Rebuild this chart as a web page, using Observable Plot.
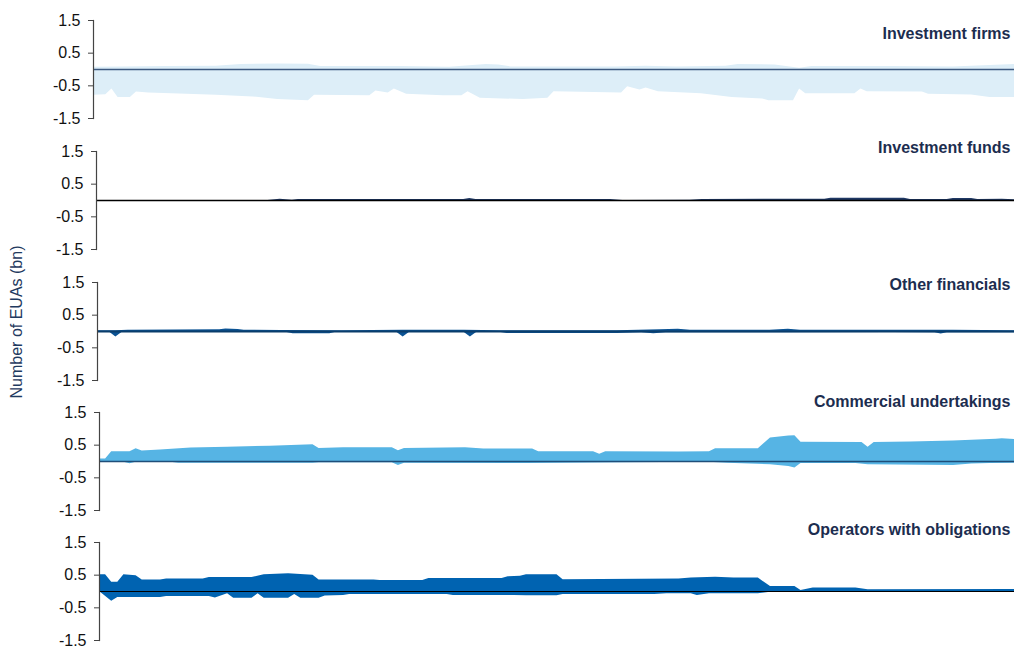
<!DOCTYPE html>
<html><head><meta charset="utf-8">
<script src="https://cdn.jsdelivr.net/npm/d3@7"></script>
<script src="https://cdn.jsdelivr.net/npm/@observablehq/plot@0.6"></script>
<style>
body{margin:0;background:#fff;font-family:"Liberation Sans",Arial,sans-serif;}
#wrap{position:relative;width:1019px;height:648px;overflow:hidden;background:#fff;}
.panel{position:absolute;left:0;}
#ylab{position:absolute;left:17px;top:322px;transform:translate(-50%,-50%) rotate(-90deg);white-space:nowrap;font-size:16px;color:#1f3a60;}
</style></head><body>
<div id="wrap"><div id="ylab">Number of EUAs (bn)</div></div>
<script>
// ---- Data (weeks since start, positions in bn EUAs) ----
const yTicks = [1.5, 0.5, -0.5, -1.5];
const panelTitles = ["Investment firms", "Investment funds", "Other financials", "Commercial undertakings", "Operators with obligations"];

const firmsLongWeek  = [0,5,12,20,24,30,35,37,50,58,64,66,68,85,90,95,103,105,111,115,117,130,140,146,150];
const firmsLongValue = [0.07,0.08,0.09,0.1,0.15,0.17,0.16,0.09,0.09,0.07,0.15,0.14,0.08,0.08,0.1,0.08,0.1,0.15,0.14,0.04,0.09,0.09,0.08,0.12,0.15];
const firmsShortWeek  = [0,2,3,4,6,7,9,14,20,26,30,35,36,45,46,48,49,51,57,60,61,63,70,74,75,86,87,89,90,92,99,104,109,110,114,115,116,124,125,126,135,136,143,146,150];
const firmsShortValue = [-0.79,-0.77,-0.6,-0.86,-0.86,-0.69,-0.72,-0.75,-0.79,-0.84,-0.92,-0.96,-0.79,-0.8,-0.66,-0.72,-0.6,-0.76,-0.8,-0.8,-0.68,-0.88,-0.92,-0.88,-0.68,-0.72,-0.53,-0.63,-0.57,-0.68,-0.74,-0.86,-0.9,-0.96,-0.96,-0.6,-0.74,-0.74,-0.6,-0.68,-0.69,-0.76,-0.78,-0.86,-0.86];

const fundsLongWeek  = [0,28,30,32,33,60,61,62,84,86,97,99,119,120,132,133,139,140,143,144,148,150];
const fundsLongValue = [0,0,0.04,0.01,0.03,0.03,0.06,0.03,0.03,0,0.01,0.03,0.04,0.07,0.07,0.03,0.03,0.06,0.06,0.03,0.04,0.02];
const fundsShortWeek  = [0,150];
const fundsShortValue = [-0.01,-0.01];

const otherLongWeek  = [0,3,5,20,21,23,24,30,40,50,60,66,85,92,95,97,110,113,115,140,145,150];
const otherLongValue = [0.02,0.02,0.04,0.05,0.08,0.06,0.04,0.03,0.02,0.04,0.04,0.02,0.02,0.05,0.07,0.04,0.04,0.07,0.04,0.04,0.03,0.02];
const otherShortWeek  = [0,2,3,4,31,32,38,39,49,50,51,60,61,62,66,67,85,89,91,93,130,137,138,139,150];
const otherShortValue = [-0.02,-0.02,-0.17,-0.03,-0.03,-0.07,-0.07,-0.02,-0.03,-0.17,-0.03,-0.03,-0.17,-0.03,-0.03,-0.06,-0.06,-0.04,-0.07,-0.04,-0.03,-0.04,-0.08,-0.04,-0.04];

const commLongWeek  = [0,1,2,5,6,7,10,15,21,28,35,36,40,48,49,50,60,63,71,72,81,82,83,95,100,101,108,110,113,114,115,125,126,127,133,140,147,148,150];
const commLongValue = [0.08,0.08,0.3,0.3,0.39,0.32,0.35,0.41,0.44,0.47,0.51,0.4,0.42,0.42,0.33,0.4,0.42,0.38,0.38,0.3,0.3,0.22,0.3,0.29,0.3,0.39,0.39,0.72,0.78,0.79,0.59,0.58,0.44,0.58,0.6,0.63,0.68,0.7,0.67];
const commShortWeek  = [0,4,5,6,12,13,35,36,48,49,50,70,85,100,103,110,113,114,115,124,126,140,143,146,150];
const commShortValue = [0,-0.02,-0.07,-0.02,-0.03,-0.05,-0.05,-0.04,-0.04,-0.12,-0.05,-0.06,-0.04,-0.02,-0.05,-0.1,-0.15,-0.2,-0.06,-0.06,-0.1,-0.12,-0.08,-0.06,-0.05];

const opsLongWeek  = [0,1,2,3,4,6,7,10,11,17,18,25,27,31,35,36,45,46,53,54,66,67,69,70,75,76,95,97,101,104,108,110,114,115,117,124,126,150];
const opsLongValue = [0.51,0.51,0.28,0.28,0.51,0.48,0.35,0.35,0.38,0.38,0.43,0.43,0.51,0.54,0.5,0.35,0.35,0.34,0.34,0.4,0.4,0.45,0.47,0.51,0.51,0.36,0.38,0.41,0.44,0.41,0.41,0.15,0.15,0.03,0.11,0.11,0.05,0.06];
const opsShortWeek  = [0,2,3,10,11,18,19,21,22,25,26,27,31,32,33,36,37,40,41,57,58,68,70,75,76,91,93,97,98,100,108,110,150];
const opsShortValue = [0,-0.3,-0.18,-0.18,-0.15,-0.15,-0.2,-0.07,-0.21,-0.21,-0.07,-0.21,-0.21,-0.09,-0.21,-0.21,-0.14,-0.12,-0.09,-0.09,-0.12,-0.12,-0.13,-0.13,-0.09,-0.09,-0.07,-0.07,-0.12,-0.07,-0.07,-0.02,-0.02];

// ---- Styles / layout ----
const panels = [
  {lw: firmsLongWeek, lv: firmsLongValue, sw: firmsShortWeek, sv: firmsShortValue, fill:"#ddeef8", line:"#3d5a80", lineW:1.5, top:0,   left:93, titleDy:13},
  {lw: fundsLongWeek, lv: fundsLongValue, sw: fundsShortWeek, sv: fundsShortValue, fill:"#1f3864", line:"#000000", lineW:1.5, top:131, left:96, titleDy:-4},
  {lw: otherLongWeek, lv: otherLongValue, sw: otherShortWeek, sv: otherShortValue, fill:"#0b5394", line:"#0a3d6b", lineW:2,   top:262, left:97, titleDy:2},
  {lw: commLongWeek,  lv: commLongValue,  sw: commShortWeek,  sv: commShortValue,  fill:"#56b4e4", line:"#1f4e79", lineW:1.5, top:392, left:99, titleDy:-11},
  {lw: opsLongWeek,   lv: opsLongValue,   sw: opsShortWeek,   sv: opsShortValue,   fill:"#0063b1", line:"#000000", lineW:1,   top:522, left:99, titleDy:-13}
];

const wrap = document.getElementById("wrap");
panels.forEach((p, i) => {
  const longData = p.lw.map((w, k) => ({w, v: p.lv[k]}));
  const shortData = p.sw.map((w, k) => ({w, v: p.sv[k]}));
  const svg = Plot.plot({
    width: 1019,
    height: 130,
    marginTop: 20,
    marginBottom: 12,
    marginLeft: p.left,
    marginRight: 5,
    style: {background: "transparent", fontFamily: '"Liberation Sans", Arial, sans-serif'},
    x: {domain: [0, 150], axis: null},
    y: {domain: [-1.5, 1.5], label: null},
    marks: [
      Plot.areaY(longData, {x: "w", y: "v", fill: p.fill}),
      Plot.areaY(shortData, {x: "w", y: "v", fill: p.fill}),
      Plot.ruleY([0], {stroke: p.line, strokeWidth: p.lineW}),
      Plot.frame({anchor: "left", stroke: "#444", strokeWidth: 1.2}),
      Plot.axisY({ticks: yTicks, tickFormat: () => "", tickSize: 5, label: null, stroke: "#444"}),
      Plot.text(yTicks, {y: d => d, text: d => String(d), frameAnchor: "left", dx: -13, textAnchor: "end", fontSize: 16, fill: "#111"}),
      Plot.text([panelTitles[i]], {frameAnchor: "top-right", text: d => d, dx: -4, dy: p.titleDy, fontWeight: "bold", fontSize: 16, fill: "#1c2d4f", textAnchor: "end", lineAnchor: "middle"})
    ]
  });
  svg.classList.add("panel");
  svg.style.top = p.top + "px";
  wrap.appendChild(svg);
});
</script>
</body></html>
